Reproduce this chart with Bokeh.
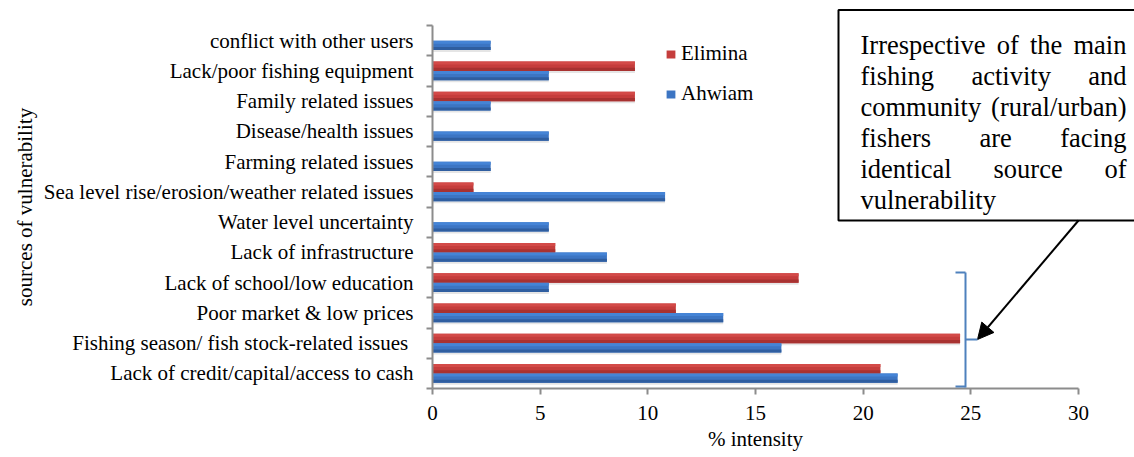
from bokeh.plotting import figure
from bokeh.models import (ColumnDataSource, FixedTicker, Range1d, Legend, LegendItem,
                          BoxAnnotation, Arrow, NormalHead, Label, Title)
from bokeh.transform import dodge
from bokeh.embed import file_html
from bokeh.resources import INLINE

# ---------------- data ----------------
categories = [
    "Lack of credit/capital/access to cash",
    "Fishing season/ fish stock-related issues ",
    "Poor market & low prices",
    "Lack of school/low education",
    "Lack of infrastructure",
    "Water level uncertainty",
    "Sea level rise/erosion/weather related issues",
    "Farming related issues",
    "Disease/health issues",
    "Family related issues",
    "Lack/poor fishing equipment",
    "conflict with other users",
]
elimina = [20.8, 24.5, 11.3, 17.0, 5.7, 0.0, 1.9, 0.0, 0.0, 9.4, 9.4, 0.0]
ahwiam = [21.6, 16.2, 13.5, 5.4, 8.1, 5.4, 10.8, 2.7, 5.4, 2.7, 5.4, 2.7]
x_ticks = [0, 5, 10, 15, 20, 25, 30]
series_names = ["Elimina", "Ahwiam"]
x_title = "% intensity"
y_title = "sources of vulnerability"
note_lines = [
    "Irrespective of the main",
    "fishing activity and",
    "community (rural/urban)",
    "fishers are facing",
    "identical source of",
    "vulnerability",
]

# ---------------- geometry / style ----------------
FONT = "Liberation Serif"
W, H = 1134, 457
FL = 432                 # frame left (px)
FB = 69                  # bottom border
FW = W - FL
FH = H - FB
XS = 646 / 30.0          # px per x unit
YS = 363 / 12.0          # px per category
X_END = FW / XS
Y_END = FH / YS

def xd(px):
    return (px - FL) / XS

def yd(py):
    return (FH - py) / YS

# Times metrics (per 1000 em) for placing text
TW = {" ": 250, "(": 333, ")": 333, "/": 278, "%": 833, "I": 333, "a": 444, "b": 500,
      "c": 444, "d": 500, "e": 444, "f": 333, "g": 500, "h": 500, "i": 278, "l": 278,
      "m": 778, "n": 500, "o": 500, "p": 500, "r": 333, "s": 389, "t": 278, "u": 500,
      "v": 500, "y": 500}

def text_w(s, size):
    return sum(TW.get(ch, 500) for ch in s) / 1000.0 * size

RED, RED_L, RED_D = "#C53D3C", "#D34A48", "#A83231"
BLUE, BLUE_L, BLUE_D = "#3C75C3", "#4584D6", "#2F5EA0"
AXIS_GREY = "#8C8C8C"

n = len(categories)
pos = [i + 0.5 for i in range(n)]
src = ColumnDataSource(dict(pos=pos, elimina=elimina, ahwiam=ahwiam))

p = figure(width=W, height=H, x_range=Range1d(0, X_END), y_range=Range1d(0, Y_END),
           output_backend="svg", toolbar_location=None,
           min_border_left=FL, min_border_right=0, min_border_top=0, min_border_bottom=FB)
p.xgrid.visible = False
p.ygrid.visible = False
p.outline_line_color = None
p.background_fill_color = "white"
p.border_fill_color = "white"

BH = 0.31
OFF = 0.155

# shadows
for field, off in (("elimina", OFF), ("ahwiam", -OFF)):
    p.hbar(y=dodge("pos", off - 0.07), height=BH, left=0, right=field, source=src,
           fill_color="black", fill_alpha=0.10, line_color=None)

r_e = p.hbar(y=dodge("pos", OFF), height=BH, left=0, right="elimina", source=src,
             fill_color=RED, line_color=None)
r_a = p.hbar(y=dodge("pos", -OFF), height=BH, left=0, right="ahwiam", source=src,
             fill_color=BLUE, line_color=None)
# gradient strips
for field, off, light, dark in (("elimina", OFF, RED_L, RED_D), ("ahwiam", -OFF, BLUE_L, BLUE_D)):
    p.hbar(y=dodge("pos", off + BH / 3), height=BH / 3, left=0, right=field, source=src,
           fill_color=light, line_color=None)
    p.hbar(y=dodge("pos", off - BH / 3), height=BH / 3, left=0, right=field, source=src,
           fill_color=dark, line_color=None)

# x axis
xa = p.xaxis[0]
xa.ticker = FixedTicker(ticks=x_ticks, minor_ticks=[])
xa.bounds = (0, 30)
xa.axis_line_color = AXIS_GREY
xa.axis_line_width = 2
xa.major_tick_line_color = AXIS_GREY
xa.major_tick_line_width = 2
xa.major_tick_out = 6
xa.major_tick_in = 0
xa.minor_tick_line_color = None
xa.major_label_text_font = FONT
xa.major_label_text_font_size = "21px"
xa.major_label_text_color = "black"
xa.major_label_standoff = 11

# y axis
ya = p.yaxis[0]
ya.ticker = FixedTicker(ticks=pos, minor_ticks=list(range(n + 1)))
ya.major_label_overrides = {pv: c for pv, c in zip(pos, categories)}
ya.bounds = (0, n)
ya.axis_line_color = AXIS_GREY
ya.axis_line_width = 2
ya.major_tick_line_color = None
ya.major_tick_out = 0
ya.major_tick_in = 0
ya.minor_tick_line_color = AXIS_GREY
ya.minor_tick_line_width = 2
ya.minor_tick_out = 6
ya.minor_tick_in = 0
ya.major_label_text_font = FONT
ya.major_label_text_font_size = "21px"
ya.major_label_text_color = "black"
ya.major_label_standoff = 13

# axis titles (centred on the 0-30 / 0-12 axis extents)
x_center_px = FL + 15 * XS
p.add_layout(Title(text=x_title, align="left", offset=x_center_px - FL - text_w(x_title, 21) / 2,
                   vertical_align="top", standoff=9, text_font=FONT, text_font_size="21px",
                   text_font_style="normal", text_color="black"), "below")
y_center_px = FH - 6 * YS
p.add_layout(Title(text=y_title, align="left",
                   offset=(FH - y_center_px) - text_w(y_title, 21) / 2,
                   vertical_align="bottom", standoff=7, text_font=FONT, text_font_size="21px",
                   text_font_style="normal", text_color="black"), "left")

# legend
legend = Legend(items=[LegendItem(label=series_names[0], renderers=[r_e]),
                       LegendItem(label=series_names[1], renderers=[r_a])],
                location=(233, 282), orientation="vertical",
                glyph_width=11, glyph_height=10, label_standoff=5,
                label_text_font=FONT, label_text_font_size="21px", label_text_color="black",
                label_height=24, spacing=15, padding=0, margin=0,
                border_line_color=None, background_fill_alpha=0)
p.add_layout(legend)

# callout box
p.add_layout(BoxAnnotation(left=xd(838), right=xd(1180), top=yd(9.5), bottom=yd(220),
                           fill_color="white", fill_alpha=1.0, line_color="black",
                           line_alpha=1.0, line_width=2, level="annotation"))

NOTE_SIZE = 26.5
NOTE_L, NOTE_R = 860, 1126
for li, line in enumerate(note_lines):
    base = 44.5 + 31 * li
    words = line.split(" ")
    last = li == len(note_lines) - 1
    if last or len(words) == 1:
        placements = [(line, NOTE_L)]
    else:
        total = sum(text_w(w, NOTE_SIZE) for w in words)
        gap = (NOTE_R - NOTE_L - total) / (len(words) - 1)
        placements, xcur = [], NOTE_L
        for w in words:
            placements.append((w, xcur))
            xcur += text_w(w, NOTE_SIZE) + gap
    for w, xpx in placements:
        p.add_layout(Label(x=xd(xpx), y=yd(base), text=w, text_font=FONT,
                           text_font_size=f"{NOTE_SIZE}px", text_color="black",
                           text_align="left", text_baseline="alphabetic"))

# arrow
p.add_layout(Arrow(x_start=xd(1078), y_start=yd(220), x_end=xd(977), y_end=yd(339),
                   line_color="black", line_width=2,
                   end=NormalHead(size=16, fill_color="black", line_color="black")))

# bracket
BR = "#4F81BD"
for (x0, y0, x1, y1) in [(955, 272, 965, 272), (965, 272, 965, 387), (965, 339, 977, 339),
                         (955, 386, 965, 386)]:
    p.add_layout(Arrow(x_start=xd(x0), y_start=yd(y0), x_end=xd(x1), y_end=yd(y1),
                       line_color=BR, line_width=2, end=None))

open("out.html", "w").write(file_html(p, INLINE))
